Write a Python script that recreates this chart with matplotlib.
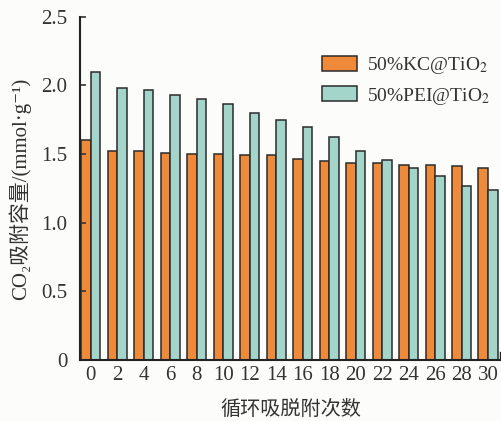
import numpy as np
import matplotlib.pyplot as plt

# 循环次数与两种吸附剂的 CO2 吸附量 (mmol/g)
cycles = [0, 2, 4, 6, 8, 10, 12, 14, 16, 18, 20, 22, 24, 26, 28, 30]
kc_tio2 = [1.60, 1.52, 1.52, 1.51, 1.50, 1.50, 1.49, 1.49,
           1.465, 1.45, 1.435, 1.435, 1.42, 1.42, 1.41, 1.40]
pei_tio2 = [2.10, 1.98, 1.965, 1.93, 1.90, 1.865, 1.80, 1.75,
            1.70, 1.625, 1.525, 1.46, 1.40, 1.34, 1.27, 1.24]

fonts = ['Liberation Serif', 'Noto Sans CJK SC', 'DejaVu Sans']
plt.rcParams['font.family'] = fonts
plt.rcParams['mathtext.fontset'] = 'stix'

fig = plt.figure(figsize=(5.02, 4.21), dpi=100, facecolor='#fcfcfa')
ax = fig.add_axes([0.159, 0.145, 0.839, 0.815])
ax.set_facecolor('#fcfcfa')

x = np.arange(len(cycles))
w = 0.36
ax.bar(x - w / 2, kc_tio2, w, color='#ef8a3b', edgecolor='#2b2b2b',
       linewidth=1.1, label=r'50%KC@TiO$_2$')
ax.bar(x + w / 2, pei_tio2, w, color='#a3d5ca', edgecolor='#2b2b2b',
       linewidth=1.1, label=r'50%PEI@TiO$_2$')

ax.set_xlim(-0.415, len(cycles) - 0.51)
ax.set_ylim(0, 2.5)
ax.set_xticks(x)
ax.set_xticklabels([str(c) for c in cycles])
ax.set_yticks([0, 0.5, 1.0, 1.5, 2.0, 2.5])
ax.set_yticklabels(['0', '0.5', '1.0', '1.5', '2.0', '2.5'])

for s in ['top', 'right']:
    ax.spines[s].set_visible(False)
for s in ['left', 'bottom']:
    ax.spines[s].set_linewidth(1.5)
    ax.spines[s].set_color('#222222')
ax.tick_params(axis='both', labelsize=15, colors='#333333', width=1.2)
ax.tick_params(axis='y', direction='in', length=4, pad=9)
ax.tick_params(axis='x', length=0, pad=4)

# 横轴末端的短刻度
ax.axvline(ax.get_xlim()[1], ymin=0, ymax=0.02, color='#222222', lw=2.5)

ax.set_xlabel('循环吸脱附次数', fontsize=14.5, color='#333333', labelpad=12)
ax.set_ylabel('CO₂吸附容量/(mmol·g⁻¹)', fontsize=15,
              color='#333333', labelpad=7)

ax.legend(loc='upper right', bbox_to_anchor=(1.015, 0.94), frameon=False,
          fontsize=14, handlelength=1.8, handleheight=0.8,
          handletextpad=0.5, labelspacing=0.5, labelcolor='#333333')

fig.savefig('out.png', dpi=100, facecolor=fig.get_facecolor())
